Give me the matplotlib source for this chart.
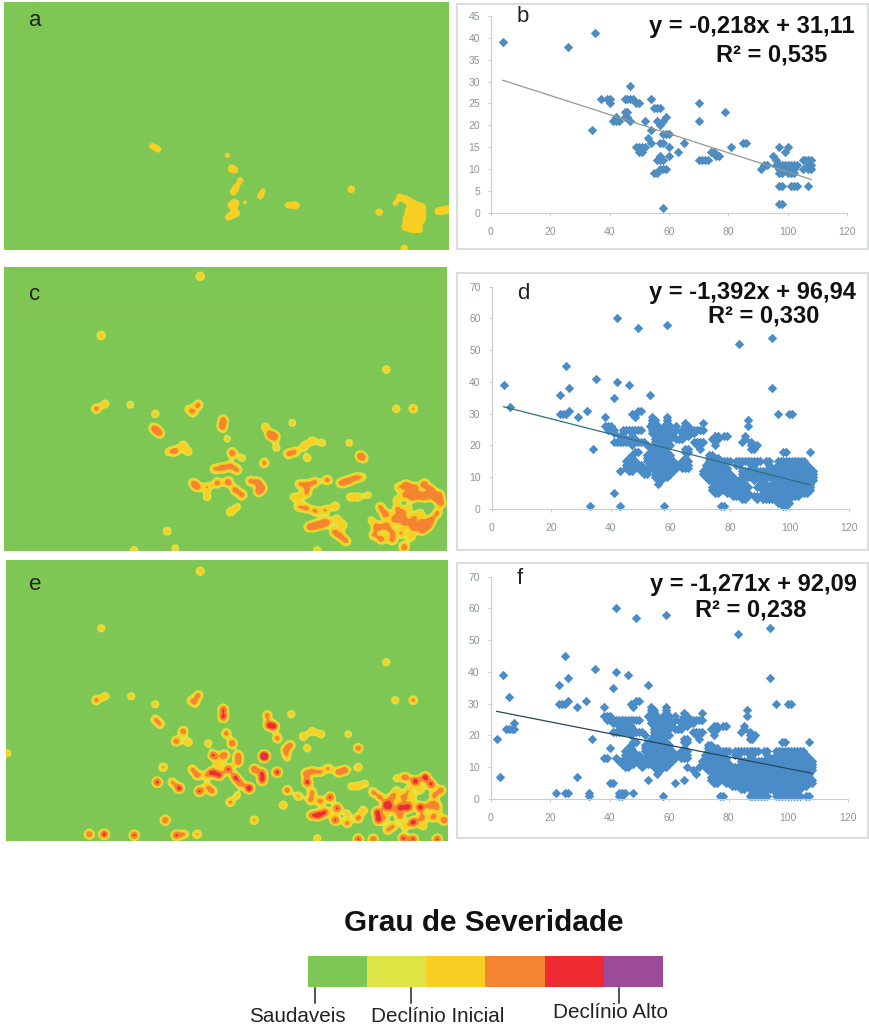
import numpy as np
import matplotlib
matplotlib.use("Agg")
import matplotlib.pyplot as plt
from matplotlib.colors import ListedColormap, BoundaryNorm
from matplotlib.patches import Rectangle

plt.rcParams['font.family'] = ['Liberation Sans', 'DejaVu Sans']

W, H = 870, 1027

# severity colours
severity_colors = ["#7fc755", "#dde545", "#f9cf24", "#f58432", "#ee2b30", "#9c4a9a"]
severity_levels = [0.30, 0.44, 0.72, 1.15, 2.0]
severity_labels = ["Saudaveis", "Declínio Inicial", "Declínio Alto"]

# hot spots on the maps: picture x, picture y, strength
a_spots = [(152, 146, .7), (158, 149, .7), (227, 155, .6), (231, 168, .8), (235, 170, .6),
           (240, 180, .7), (236, 187, .7), (233, 192, .7), (235, 203, .9), (231, 205, .8), (245, 202, .5),
           (228, 217, .7), (233, 214, .6), (237, 213, .6), (260, 196, .7), (263, 190, .5),
           (287, 205, .6), (293, 205, .7), (297, 205, .5), (351, 189, .9), (379, 212, .9),
           (399, 196, .6), (405, 199, .8), (395, 203, .6), (410, 202, .9), (416, 205, .9), (422, 207, .9),
           (408, 211, .9), (416, 212, .9), (422, 214, .9), (406, 219, .9), (414, 220, .9), (421, 220, .9),
           (405, 227, .9), (412, 229, .9), (419, 229, .9), (404, 248, .9),
           (438, 211, .9), (444, 210, .9), (450, 209, .9)]

c_spots = [(200, 277, .7), (101, 336, .7), (386, 370, .6), (96, 409, .85), (105, 404, .6), (130, 405, .55),
           (155, 414, .6), (153, 428, .7), (157, 431, .7), (160, 434, .6), (198, 405, .85), (193, 413, .65), (188, 409, .5),
           (223, 420, .9), (222, 427, 1.0), (175, 451, .9), (183, 445, .6), (188, 452, .6), (168, 452, .5),
           (227, 439, .5), (232, 453, 1.0), (242, 458, .5), (265, 427, .6), (270, 435, 1.0), (275, 437, .9), (292, 423, .55),
           (276, 448, .55), (304, 446, .65), (312, 441, .65), (322, 443, .55), (349, 443, .55),
           (288, 454, .8), (295, 452, .7), (307, 458, .6), (360, 456, 1.0), (364, 459, .5), (264, 463, .85),
           (214, 469, .7), (222, 468, .9), (230, 466, .8), (237, 470, .8), (193, 483, .75), (197, 487, .85), (207, 487, .7),
           (217, 483, .9), (228, 482, 1.0), (235, 490, .9), (242, 495, .85), (207, 497, .6),
           (250, 481, .8), (258, 482, .8), (262, 488, .85), (258, 492, .8), (230, 512, .65), (237, 507, .5),
           (299, 484, .7), (307, 485, .9), (315, 482, .8), (327, 480, .9), (307, 493, .7), (293, 497, .5), (300, 497, .45),
           (341, 483, .9), (348, 481, .9), (355, 478, .8), (362, 477, .55), (350, 497, .6), (358, 497, .6), (368, 495, .5),
           (298, 507, .65), (306, 508, .8), (315, 511, .8), (325, 510, .75), (335, 506, .7),
           (308, 527, .7), (314, 526, 1.0), (321, 524, 1.0), (327, 522, .8), (337, 519, .6), (343, 525, .6),
           (334, 532, .8), (340, 536, .8), (346, 541, .8), (167, 531, .65), (134, 550, .6), (175, 548, .55), (317, 550, .6),
           (396, 409, .6), (413, 409, .75),
           (398, 487, .6), (406, 485, 1.0), (414, 488, 1.0), (424, 484, 1.0), (431, 490, 1.0), (412, 497, 1.0), (420, 496, .9),
           (436, 498, 1.0), (441, 503, .9), (380, 507, .8), (385, 514, 1.0), (397, 509, .7), (408, 508, .5), (395, 519, 1.0),
           (404, 522, 1.0), (413, 527, 1.0), (422, 530, 1.0), (431, 520, .9), (437, 513, .8), (377, 527, 1.0), (386, 526, 1.0),
           (381, 539, .9), (392, 540, .8), (404, 547, 1.0), (402, 514, .8), (420, 513, .6), (428, 526, .8),
           (404, 495, .7), (396, 500, .5), (426, 497, .8), (392, 532, .7), (401, 533, .7), (411, 537, .6), (422, 522, .7),
           (440, 494, .6), (371, 520, .5), (373, 535, .7), (413, 518, .7)]

e_spots = [(200, 571, .7), (101, 628, .6), (386, 662, .6), (7, 753, .6), (96, 700, .85), (105, 696, .6), (131, 696, .6),
           (155, 704, .6), (155, 719, .7), (160, 724, .7), (198, 695, .85), (195, 703, .65), (190, 700, .5),
           (223, 709, 1.1), (223, 717, 1.2), (183, 731, 1.0), (176, 741, 1.0), (188, 742, .7), (208, 743, .6),
           (226, 733, .9), (232, 743, 1.1), (238, 755, .9), (238, 762, .9), (213, 755, 1.2), (224, 755, 1.1),
           (267, 715, .9), (268, 725, 1.1), (274, 726, 1.2), (277, 738, .9), (290, 745, .9), (285, 750, .8), (291, 714, .6),
           (303, 736, .65), (312, 731, .65), (321, 734, .6), (348, 734, .55), (358, 748, .95), (307, 748, .6),
           (264, 756, 2.2), (287, 757, .6), (212, 772, 1.2), (219, 775, 1.2), (228, 769, 1.2), (235, 777, 1.2), (240, 783, 1.0),
           (218, 763, .6), (197, 775, .9), (192, 769, .75), (206, 775, .6), (254, 769, 1.1), (262, 773, 1.1), (262, 780, 1.2),
           (249, 788, 1.5), (277, 772, 1.3), (157, 782, 1.25), (163, 767, .75), (172, 782, .75), (179, 788, 1.3),
           (199, 791, 1.2), (207, 786, .6), (212, 791, .9), (230, 802, .8), (237, 795, .5), (283, 805, .7),
           (254, 820, .75), (165, 820, 1.1), (287, 790, .95), (305, 773, .8), (312, 771, .8), (307, 782, 1.3),
           (320, 772, .75), (328, 768, .75), (338, 772, .9), (345, 770, 1.0), (358, 767, .7), (351, 786, .55), (358, 786, .55), (365, 783, .5),
           (298, 796, .75), (310, 800, .8), (320, 801, .85), (330, 797, 1.2), (312, 792, .8),
           (311, 815, .9), (318, 815, 1.3), (325, 812, 1.1), (337, 808, 1.2), (335, 820, 1.2), (347, 823, .85), (347, 813, .5),
           (358, 818, .9), (363, 810, .7), (377, 812, 1.3), (378, 820, 1.2), (373, 792, .8), (380, 797, .8), (387, 805, 2.0),
           (392, 797, .9), (405, 777, 1.0), (415, 781, 1.4), (425, 777, 1.4), (431, 784, 1.2), (396, 778, .5),
           (400, 807, 1.2), (408, 807, 1.4), (420, 807, 1.4), (430, 805, 1.0), (441, 790, .9), (434, 795, .8), (403, 797, .8),
           (413, 822, 1.4), (400, 816, .9), (422, 817, .85), (433, 817, .9), (444, 820, 1.1), (393, 826, .7),
           (89, 834, 1.05), (104, 834, 1.3), (134, 835, 1.2), (176, 835, 1.15), (184, 834, .7), (197, 834, .75),
           (358, 839, 1.2), (373, 839, 1.1), (403, 838, 1.2), (413, 839, 1.2), (437, 839, 1.2), (317, 838, .6), (387, 830, .7),
           (395, 700, .6), (413, 700, .8),
           (396, 790, .55), (408, 790, .65), (420, 790, .6), (412, 798, .6), (437, 804, .6), (385, 817, .6), (393, 810, .55),
           (405, 826, .6), (423, 826, .6), (438, 810, .5)]

# scatter b: one list of x per y level
b_levels = [41, 39, 38, 29, 26, 25, 24, 23, 22, 21, 20, 19, 18, 17, 16, 15, 14, 13, 12, 11, 10, 9, 6, 2, 1]
b_columns = [[35], [4], [26], [47],
             [37, 39, 40, 45, 46, 47, 48, 54],
             [40, 49, 50, 70],
             [55, 56, 57],
             [45, 46, 79],
             [42, 45, 46, 59],
             [41, 42, 43, 47, 52, 56, 58, 70],
             [57],
             [34, 54],
             [58, 59, 60],
             [53],
             [54, 57, 58, 65, 85, 86],
             [49, 50, 51, 52, 60, 81, 97, 100],
             [50, 51, 63, 74, 75, 99],
             [57, 60, 76, 77, 95],
             [56, 57, 58, 70, 71, 72, 73, 96, 105, 106, 107, 108],
             [92, 93, 96, 97, 98, 99, 100, 101, 102, 103, 107, 108],
             [57, 58, 59, 91, 97, 98, 99, 100, 101, 102, 105, 107, 108],
             [55, 56, 97, 98, 100, 101, 102],
             [97, 98, 101, 102, 103, 107],
             [97, 98],
             [58]]

# scatter d
d_levels = [60, 58, 57, 54, 52, 45, 41, 40, 39, 38, 36, 35, 32, 31, 30, 29, 28, 27, 26, 25, 24, 23, 22, 21,
            20, 19, 18, 17, 16, 15, 14, 13, 12, 11, 10, 9, 8, 7, 6, 5, 4, 3, 2, 1]
d_columns = [[42], [59], [49], [94], [83], [25], [35], [42], [4, 46], [26, 94], [23, 53], [41], [6],
             [26, 32, 49, 50],
             [23, 24, 25, 47, 48, 96, 100, 101],
             [29, 38, 48, 54, 59],
             [54, 55, 59, 86],
             [54, 55, 59, 65, 71],
             [38, 39, 40, 53, 54, 55, 56, 58, 59, 60, 62, 65, 66, 86],
             [39, 40, 41, 44, 45, 46, 47, 48, 49, 50, 54, 55, 56, 57, 58, 59, 60, 62, 64, 65, 66, 67, 68, 69, 70, 71],
             [41, 44, 54, 55, 56, 57, 58, 59, 60, 64, 65, 66, 67, 68],
             [43, 47, 55, 56, 57, 58, 59, 60, 61, 66, 75, 76, 78, 79, 85],
             [44, 45, 47, 48, 55, 56, 57, 58, 59, 60, 62, 63, 64, 74, 76, 85],
             [41, 42, 43, 44, 45, 46, 47, 49, 50, 51, 55, 56, 57, 58, 59, 68, 69, 70, 71, 84, 87],
             [47, 52, 55, 56, 57, 58, 59, 60, 69, 70, 75, 87, 88, 89],
             [34, 54, 55, 56, 57, 58, 65, 66, 70, 87, 88],
             [48, 49, 53, 54, 55, 56, 57, 58, 59, 65, 66, 98, 99, 107],
             [47, 52, 53, 54, 55, 56, 57, 58, 59, 60, 73, 74],
             [46, 47, 52, 53, 54, 55, 56, 57, 58, 59, 60, 65, 73, 74, 75, 76],
             [45, 46, 47, 48, 52, 53, 54, 55, 56, 57, 58, 59, 60, 61, 64, 65, 66, 73, 74, 75, 76, 77, 78, 79, 80,
              82, 83, 84, 85, 86, 87, 88, 89, 90, 92, 93, 96, 97, 98, 99, 100, 101, 102, 103, 104, 105],
             [45, 46, 47, 48, 49, 50, 53, 54, 55, 56, 57, 58, 59, 60, 61, 62, 63, 64, 65, 66, 72, 73, 74, 75, 76, 77, 78,
              82, 83, 87, 88, 93, 96, 97, 98, 99, 100, 101, 102, 103, 104, 105, 106],
             [45, 46, 47, 48, 49, 50, 51, 53, 54, 55, 56, 57, 58, 59, 60, 61, 62, 64, 65, 66, 72, 73, 74, 75, 76, 77, 78, 79,
              93, 95, 96, 97, 98, 99, 100, 101, 102, 103, 104, 105, 106, 107],
             [43, 46, 47, 50, 51, 52, 55, 56, 57, 58, 59, 60, 61, 71, 72, 73, 74, 75, 76, 77, 78, 79, 84, 85, 86, 87, 88, 89, 90, 91, 92, 93,
              95, 96, 97, 98, 99, 100, 101, 102, 103, 104, 105, 106, 107, 108],
             [51, 52, 55, 56, 57, 58, 59, 60, 71, 72, 73, 74, 75, 76, 77, 78, 79, 80, 84, 85, 86, 87, 88, 89, 90,
              92, 93, 94, 95, 96, 97, 98, 99, 100, 101, 102, 103, 104, 105, 106, 107, 108],
             [55, 56, 57, 58, 59, 72, 73, 74, 75, 76, 77, 78, 79, 80, 81, 85, 86, 87, 88, 92, 93, 94,
              96, 97, 98, 99, 100, 101, 102, 103, 104, 105, 106, 107, 108],
             [56, 57, 73, 74, 75, 76, 77, 78, 79, 80, 82, 83, 84, 88, 90, 91, 96, 97, 98, 99, 100, 101, 102, 103, 104, 105, 106, 107, 108],
             [56, 75, 76, 77, 78, 79, 80, 81, 82, 83, 84, 85, 90, 91, 92, 94, 95, 96, 97, 98, 99, 100, 101, 102, 103, 104, 105, 106, 107],
             [74, 75, 76, 77, 78, 79, 80, 81, 82, 83, 84, 85, 86, 89, 90, 91, 92, 93, 94, 95, 96, 97, 98, 99, 100, 101, 102, 103, 104, 105, 106, 107],
             [74, 75, 76, 77, 78, 79, 80, 81, 82, 83, 84, 91, 92, 93, 94, 95, 96, 97, 98, 99, 100, 101, 102, 103, 104, 105, 106, 107],
             [41, 75, 76, 79, 80, 81, 82, 83, 84, 85, 86, 91, 92, 93, 94, 95, 96, 97, 98, 99, 100, 101, 102, 103, 104, 105, 106],
             [81, 82, 83, 84, 85, 86, 88, 89, 91, 92, 93, 94, 95, 96, 97, 98, 99, 100, 101, 102, 103],
             [84, 85, 89, 91, 92, 93, 94, 95, 96, 97, 98, 99, 100],
             [96, 97, 98, 99, 100],
             [33, 43, 58, 77, 78, 98, 99]]

# scatter f shows the d points and these on top
f_extra_levels = [25, 24, 23, 22, 19, 16, 13, 12, 11, 10, 9, 8, 7, 6, 5, 4, 3, 2, 1]
f_extra_columns = [[42, 43, 44],
                   [8, 43, 45, 46],
                   [43, 45, 46],
                   [5, 6, 7, 8, 44],
                   [2],
                   [40],
                   [38, 39, 42],
                   [43, 49, 53],
                   [44, 47, 48, 50, 52, 53, 54],
                   [45, 46, 51, 66, 70, 81, 82, 83, 84, 86, 88],
                   [68, 86, 92, 93, 94],
                   [69, 86, 87, 88, 89, 93],
                   [3, 29, 87, 88, 89],
                   [53, 65, 85, 86, 87, 88, 89, 90, 108],
                   [40, 62, 87, 88, 89, 90, 107, 108],
                   [87, 90, 104, 105, 106],
                   [87, 88, 90, 101, 102, 103, 104],
                   [22, 25, 26, 33, 43, 44, 45, 48, 88, 89, 90, 101, 102, 103],
                   [44, 87, 88, 89, 90, 91, 92, 93, 96, 97, 100, 101, 102, 103, 104, 106, 107]]

# trend lines as drawn
b_trend_x, b_trend_y = [4, 108], [30.3, 7.6]
d_trend_x, d_trend_y = [4, 107], [32.2, 7.6]
f_trend_x, f_trend_y = [2, 108], [27.6, 8.1]

x_ticks = [0, 20, 40, 60, 80, 100, 120]
b_yticks = [0, 5, 10, 15, 20, 25, 30, 35, 40, 45]
df_yticks = [0, 10, 20, 30, 40, 50, 60, 70]


def ax_px(fig, left, top, right, bottom):
    return fig.add_axes([left / W, 1 - bottom / H, (right - left) / W, (bottom - top) / H])


def txt(fig, x, y, s, **kw):
    fig.text(x / W, 1 - y / H, s, ha="center", va="center", zorder=5, **kw)


def flatten(levels, columns):
    xs, ys = [], []
    for lev, col in zip(levels, columns):
        xs += col
        ys += [lev] * len(col)
    return xs, ys


def draw_map(fig, box, spots, sigma, cap, levels=severity_levels):
    left, top, right, bottom = box
    ax = ax_px(fig, left, top, right, bottom)
    xx, yy = np.meshgrid(np.arange(left, right, 0.5), np.arange(top, bottom, 0.5))
    field = np.zeros_like(xx)
    for sx, sy, amp in spots:
        field += amp * np.exp(-((xx - sx) ** 2 + (yy - sy) ** 2) / (2 * sigma ** 2))
    field = np.minimum(field, cap)
    norm = BoundaryNorm([-1] + levels + [9], len(severity_colors))
    # rgba stage keeps the bands flat and smooths only their edges
    ax.imshow(field, cmap=ListedColormap(severity_colors), norm=norm, extent=(left, right, bottom, top),
              aspect="auto", interpolation="hanning", interpolation_stage="rgba")
    ax.axis("off")
    return ax


def draw_scatter(fig, frame, box, xs, ys, trend_x, trend_y, yticks, color, line):
    fig.add_artist(Rectangle((frame[0] / W, 1 - frame[3] / H), (frame[2] - frame[0]) / W,
                             (frame[3] - frame[1]) / H, transform=fig.transFigure,
                             fc="white", ec="#d4d8d8", lw=1.2, zorder=-1))
    ax = ax_px(fig, *box)
    ax.patch.set_alpha(0)
    ax.scatter(xs, ys, marker="D", s=23, color=color, linewidths=0, clip_on=False, zorder=2)
    ax.plot(trend_x, trend_y, color=line, lw=0.9, zorder=3)
    ax.set_xlim(0, 120)
    ax.set_ylim(0, yticks[-1])
    ax.set_xticks(x_ticks)
    ax.set_yticks(yticks)
    ax.tick_params(axis="x", labelsize=7.5, colors="#8a949c", length=2, width=0.7, pad=8, color="#c5ccd4")
    ax.tick_params(axis="y", labelsize=7.5, colors="#8a949c", length=2, width=0.7, pad=6, color="#c5ccd4")
    for side in ["top", "right"]:
        ax.spines[side].set_visible(False)
    for side in ["left", "bottom"]:
        ax.spines[side].set_color("#c5ccd4")
        ax.spines[side].set_linewidth(0.8)
    return ax


fig = plt.figure(figsize=(W / 100, H / 100), dpi=100, facecolor="white")

# left column, maps
draw_map(fig, (4, 2, 449, 250), a_spots, 3.0, 0.85, [0.42, 0.44, 0.9, 1.5, 2.0])
draw_map(fig, (4, 267, 447, 551), c_spots, 3.6, 1.05)
draw_map(fig, (6, 560, 448, 841), e_spots, 3.5, 2.4)

# right column, scatter plots
b_x, b_y = flatten(b_levels, b_columns)
d_x, d_y = flatten(d_levels, d_columns)
fx, fy = flatten(f_extra_levels, f_extra_columns)
f_x, f_y = d_x + fx, d_y + fy

draw_scatter(fig, (457, 4, 868, 249), (491, 16, 847, 212.7), b_x, b_y, b_trend_x, b_trend_y, b_yticks, "#4f8cc0", "#8f9a90")
draw_scatter(fig, (457, 273, 868, 550), (491.7, 286.7, 849, 509), d_x, d_y, d_trend_x, d_trend_y, df_yticks, "#4a8cc8", "#2f6f80")
draw_scatter(fig, (457, 563, 868, 838), (490.7, 576.7, 847.7, 799), f_x, f_y, f_trend_x, f_trend_y, df_yticks, "#4a8cc8", "#26485a")

# panel letters
for x, y, s in [(35, 20, "a"), (523, 17, "b"), (35, 295, "c"), (523, 293, "d"), (35, 584, "e"), (520, 578, "f")]:
    txt(fig, x, y, s, fontsize=16, color="#222222")

# trend equations
eq_style = dict(fontsize=17, fontweight="bold", color="#111111")
txt(fig, 752, 27, "y = -0,218x + 31,11", **eq_style)
txt(fig, 772, 55, "R² = 0,535", **eq_style)
txt(fig, 752, 292, "y = -1,392x + 96,94", **eq_style)
txt(fig, 764, 316, "R² = 0,330", **eq_style)
txt(fig, 753, 584, "y = -1,271x + 92,09", **eq_style)
txt(fig, 751, 610, "R² = 0,238", **eq_style)

# severity legend
txt(fig, 484, 923, "Grau de Severidade", fontsize=21.4, fontweight="bold", color="#111111")
cax = ax_px(fig, 308, 956, 663, 987)
cax.imshow(np.arange(6).reshape(1, 6), cmap=ListedColormap(severity_colors), aspect="auto")
cax.axis("off")
tick_ax = ax_px(fig, 0, 0, W, H)
tick_ax.set_xlim(0, W)
tick_ax.set_ylim(H, 0)
tick_ax.axis("off")
for x in [315, 411, 619]:
    tick_ax.plot([x, x], [988, 1003], color="#222222", lw=1.1)
txt(fig, 297, 1016, severity_labels[0], fontsize=14.9, color="#222222")
txt(fig, 438, 1016, severity_labels[1], fontsize=14.9, color="#222222")
txt(fig, 611, 1012, severity_labels[2], fontsize=14.9, color="#222222")

fig.savefig("out.png", dpi=100)
